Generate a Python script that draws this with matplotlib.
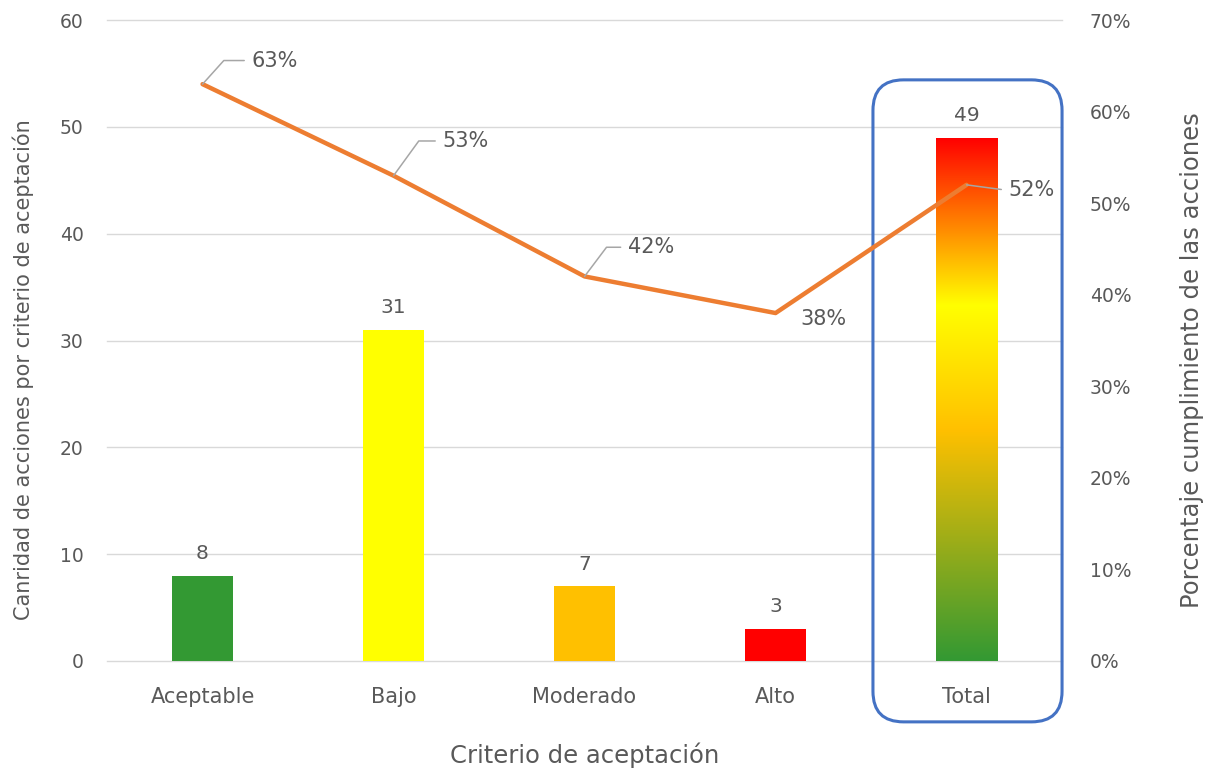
import numpy as np
import matplotlib
matplotlib.use("Agg")
import matplotlib.pyplot as plt
from matplotlib.colors import LinearSegmentedColormap
from matplotlib.patches import FancyBboxPatch
from matplotlib.ticker import PercentFormatter

# Data
categories = ["Aceptable", "Bajo", "Moderado", "Alto", "Total"]
counts = [8, 31, 7, 3, 49]
compliance = [0.63, 0.53, 0.42, 0.38, 0.52]
bar_colors = ["#339933", "#FFFF00", "#FFC000", "#FF0000", None]

plt.rcParams["font.family"] = ["DejaVu Sans"]
TXT = "#595959"
GRID = "#D9D9D9"

fig = plt.figure(figsize=(12.11, 7.71), dpi=100)
ax = fig.add_axes([0.0884, 0.1427, 0.7886, 0.8313])
x = np.arange(len(categories))

bars = ax.bar(x, counts, width=0.32, color=[c if c else "none" for c in bar_colors],
              zorder=2)

# gradient fill for the Total bar
grad = LinearSegmentedColormap.from_list(
    "riesgo", [(0.0, "#339933"), (0.44, "#FFC000"), (0.68, "#FFFF00"), (1.0, "#FF0000")])
tb = bars[-1]
img = ax.imshow(np.linspace(0, 1, 256).reshape(-1, 1), cmap=grad, origin="lower",
                extent=[tb.get_x(), tb.get_x() + tb.get_width(), 0, tb.get_height()],
                aspect="auto", zorder=2)
img.set_clip_path(tb)

ax.bar_label(bars, labels=[str(v) for v in counts], padding=9, fontsize=14.5, color=TXT)

ax.set_xlim(-0.5, len(categories) - 0.5)
ax.set_ylim(0, 60)
ax.set_yticks(range(0, 61, 10))
ax.set_xticks(x)
ax.set_xticklabels(categories)
ax.grid(axis="y", color=GRID, linewidth=1, zorder=0)
for gl in ax.get_ygridlines():
    gl.set_clip_on(False)
ax.set_axisbelow(True)
for s in ax.spines.values():
    s.set_visible(False)
ax.tick_params(axis="both", length=0, labelsize=13.5, labelcolor=TXT)
ax.tick_params(axis="x", pad=19, labelsize=15)
ax.tick_params(axis="y", pad=17)
ax.set_xlabel("Criterio de aceptación", fontsize=17.5, color=TXT, labelpad=25)
ax.set_ylabel("Canridad de acciones por criterio de aceptación", fontsize=15, color=TXT)
ax.yaxis.set_label_coords(-0.076, 0.454)

# secondary axis: compliance line
ax2 = ax.twinx()
ax2.plot(x, compliance, color="#ED7D31", linewidth=3.2, solid_capstyle="round", zorder=3)
ax2.set_ylim(0, 0.70)
ax2.set_yticks(np.arange(0, 0.71, 0.1))
ax2.yaxis.set_major_formatter(PercentFormatter(1.0, decimals=0))
for s in ax2.spines.values():
    s.set_visible(False)
ax2.tick_params(axis="y", length=0, labelsize=13.5, labelcolor=TXT, pad=20)
ax2.set_ylabel("Porcentaje cumplimiento de las acciones", fontsize=17.5, color=TXT)
ax2.yaxis.set_label_coords(1.123, 0.47)

# label offsets (points) and leader style
offsets = [(35, 17), (35, 25), (31, 21), (18, -4), (30, -4)]
leaders = ["angle,angleA=0,angleB=48,rad=0", "angle,angleA=0,angleB=54,rad=0",
           "angle,angleA=0,angleB=53,rad=0", None, "arc3"]
for xi, v, off, ls in zip(x, compliance, offsets, leaders):
    kw = {}
    if ls:
        kw["arrowprops"] = dict(arrowstyle="-", color="#A6A6A6", lw=1.1,
                                connectionstyle=ls, shrinkA=3, shrinkB=0,
                                relpos=(0, 0.5))
    ax2.annotate(f"{v:.0%}", xy=(xi, v), xytext=off, textcoords="offset points",
                 ha="left", va="center", fontsize=15, color=TXT, zorder=4, **kw)

# rounded highlight box around the Total column
ti = len(categories) - 1
px_per_x = ax.bbox.width / 5
px_per_y = ax.bbox.height / 60
box = FancyBboxPatch((ti - 0.49, -5.7), 0.99, 60.1,
                     boxstyle="round,pad=0,rounding_size=0.16",
                     mutation_aspect=px_per_x / px_per_y,
                     fill=False, edgecolor="#4472C4", linewidth=2.2,
                     clip_on=False, zorder=5, transform=ax.transData)
ax.add_patch(box)

fig.savefig("out.png", dpi=100)
